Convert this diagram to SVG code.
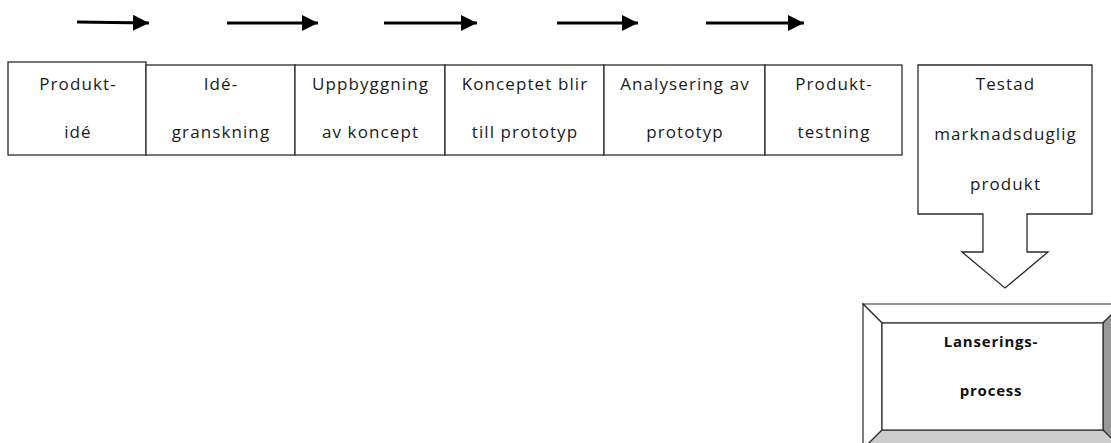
<svg xmlns="http://www.w3.org/2000/svg" width="1111" height="443" viewBox="0 0 1111 443">
  <style>
    .box { fill: #ffffff; stroke: #2b2b2b; stroke-width: 1.3; }
    .lbl { font-family: "Open Sans", "Liberation Sans", sans-serif; font-size: 17px; letter-spacing: 1.1px; fill: #1a1a1a; text-anchor: middle; }
    .bold { font-family: "Open Sans", "Liberation Sans", sans-serif; font-size: 15px; font-weight: bold; letter-spacing: 0.8px; fill: #111111; text-anchor: middle; }
    .flow { stroke: #000000; stroke-width: 3; fill: none; }
    .bevel { stroke: #2b2b2b; stroke-width: 1.2; stroke-linejoin: miter; }
  </style>
  <defs>
    <marker id="head" viewBox="0 0 16 16" refX="16" refY="8" markerWidth="16" markerHeight="16" markerUnits="userSpaceOnUse" orient="auto">
      <path d="M0,0 L16,8 L0,16 Z" fill="#000000"/>
    </marker>
  </defs>

  <rect width="1111" height="443" fill="#ffffff"/>

  <!-- flow arrows above the process row -->
  <g id="connectors">
    <line class="flow" x1="77" y1="22" x2="149" y2="23" marker-end="url(#head)"/>
    <line class="flow" x1="227" y1="23" x2="318" y2="23" marker-end="url(#head)"/>
    <line class="flow" x1="384" y1="23" x2="477" y2="23" marker-end="url(#head)"/>
    <line class="flow" x1="557" y1="23" x2="638" y2="23" marker-end="url(#head)"/>
    <line class="flow" x1="706" y1="23" x2="804" y2="23" marker-end="url(#head)"/>
  </g>

  <!-- process steps -->
  <g id="step-produktide">
    <rect class="box" x="8" y="62" width="138" height="93"/>
    <text class="lbl" x="78" y="90">Produkt-</text>
    <text class="lbl" x="78" y="138">idé</text>
  </g>
  <g id="step-idegranskning">
    <rect class="box" x="146" y="65" width="149" height="90"/>
    <text class="lbl" x="221" y="90">Idé-</text>
    <text class="lbl" x="221" y="138">granskning</text>
  </g>
  <g id="step-uppbyggnad">
    <rect class="box" x="295" y="65" width="150" height="90"/>
    <text class="lbl" x="370.5" y="90">Uppbyggning</text>
    <text class="lbl" x="370.5" y="138">av koncept</text>
  </g>
  <g id="step-prototyp">
    <rect class="box" x="445" y="65" width="159" height="90"/>
    <text class="lbl" x="525" y="90">Konceptet blir</text>
    <text class="lbl" x="525" y="138">till prototyp</text>
  </g>
  <g id="step-analys">
    <rect class="box" x="604" y="65" width="161" height="90"/>
    <text class="lbl" x="685" y="90">Analysering av</text>
    <text class="lbl" x="685" y="138">prototyp</text>
  </g>
  <g id="step-testning">
    <rect class="box" x="765" y="65" width="137" height="90"/>
    <text class="lbl" x="834" y="90">Produkt-</text>
    <text class="lbl" x="834" y="138">testning</text>
  </g>

  <!-- callout with down arrow -->
  <g id="tested-product">
    <path class="box" d="M918,65 H1092 V214 H1027 V252 H1048 L1005,288 L962,252 H983 V214 H918 Z"/>
    <text class="lbl" x="1005.5" y="90">Testad</text>
    <text class="lbl" x="1005.5" y="140">marknadsduglig</text>
    <text class="lbl" x="1005.5" y="190">produkt</text>
  </g>

  <!-- bevelled launch box -->
  <g id="launch-process">
    <polygon class="bevel" fill="#ffffff" points="863,304 1122,304 1103,323 882,323"/>
    <polygon class="bevel" fill="#ffffff" points="863,304 882,323 882,430 863,449"/>
    <polygon class="bevel" fill="#999999" points="1122,304 1122,449 1103,430 1103,323"/>
    <polygon class="bevel" fill="#cccccc" points="882,430 1103,430 1122,449 863,449"/>
    <rect class="bevel" fill="#ffffff" x="882" y="323" width="221" height="107"/>
    <text class="bold" x="991" y="347">Lanserings-</text>
    <text class="bold" x="991" y="396">process</text>
  </g>
</svg>
